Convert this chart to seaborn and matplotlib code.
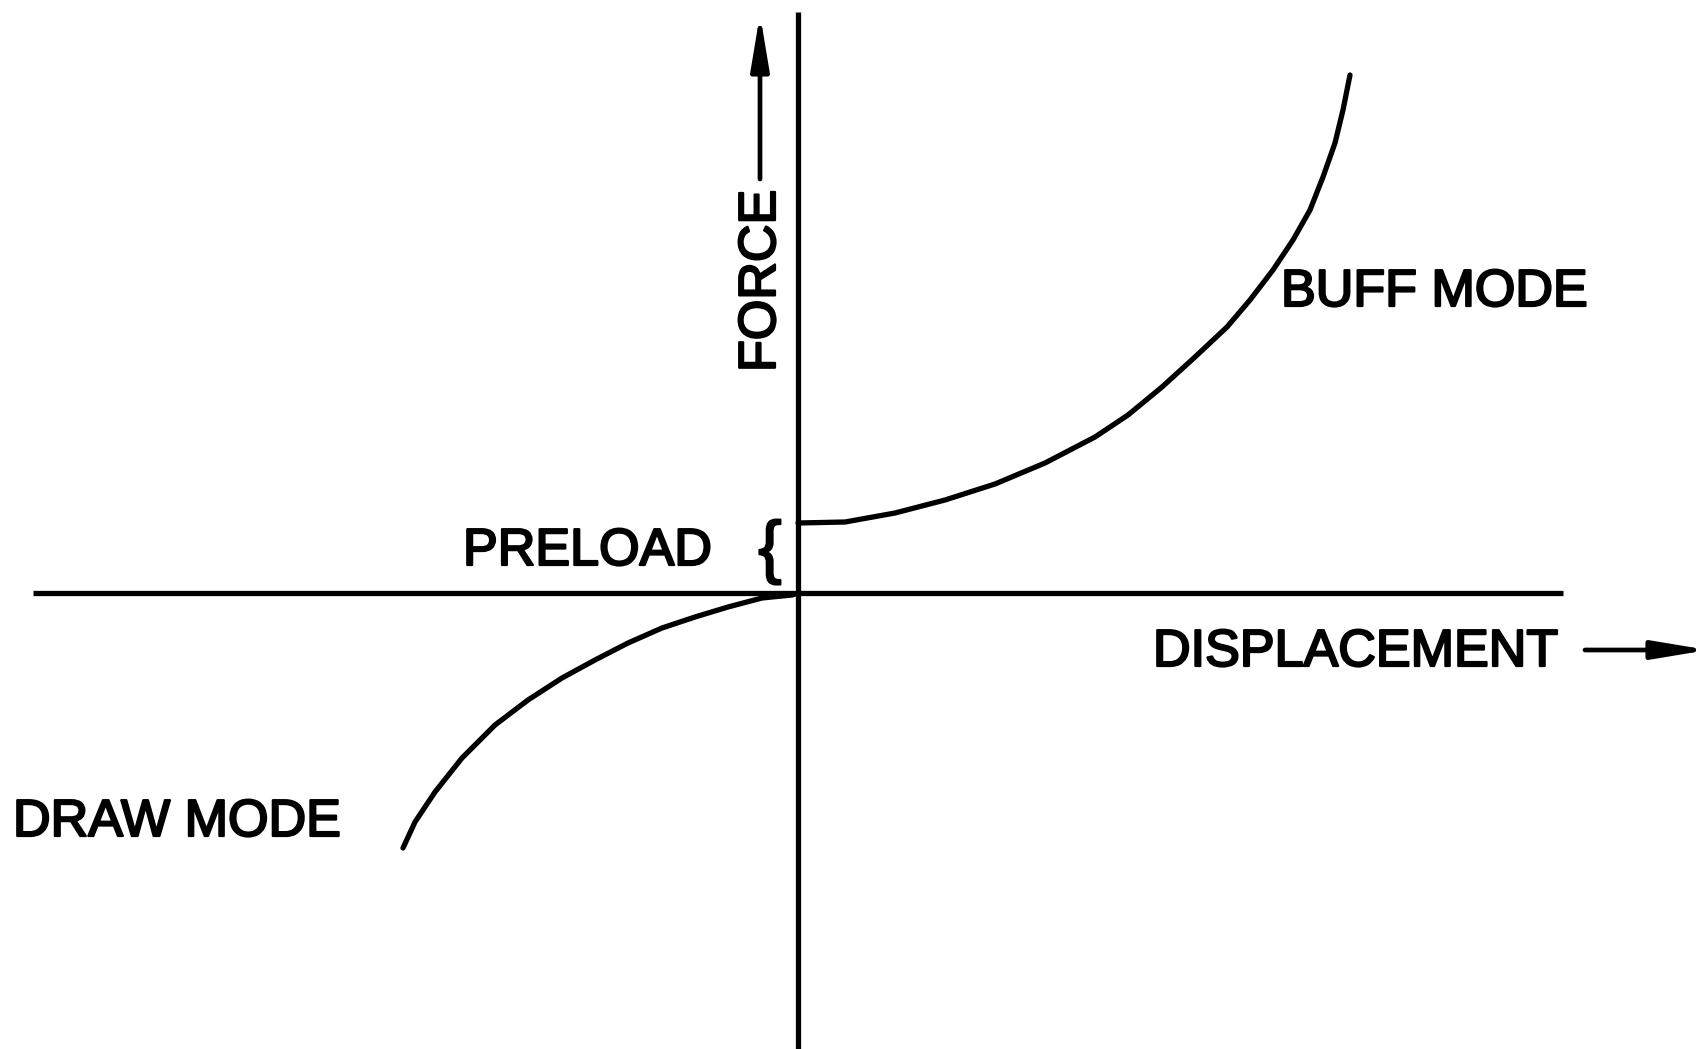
import numpy as np
import pandas as pd
import matplotlib
matplotlib.use("Agg")
import matplotlib.pyplot as plt
import matplotlib.patheffects as pe
import seaborn as sns

# Buff mode curve (displacement > 0), starts at preload force
buff_x = [0.00, 0.47, 0.97, 1.47, 1.97, 2.47, 2.97, 3.30, 3.64, 3.97, 4.29, 4.52,
          4.75, 4.95, 5.12, 5.25, 5.37, 5.45, 5.52]
buff_y = [0.70, 0.71, 0.80, 0.93, 1.09, 1.30, 1.56, 1.78, 2.06, 2.36, 2.66, 2.93,
          3.23, 3.53, 3.83, 4.16, 4.50, 4.83, 5.18]

# Draw mode curve (displacement < 0)
draw_x = [0.00, -0.06, -0.36, -0.70, -1.03, -1.36, -1.70, -2.03, -2.36, -2.70,
          -3.03, -3.36, -3.63, -3.83, -3.95]
draw_y = [0.00, -0.02, -0.05, -0.14, -0.24, -0.35, -0.50, -0.67, -0.85, -1.07,
          -1.32, -1.65, -1.99, -2.29, -2.55]

labels = {
    "force": "FORCE",
    "disp": "DISPLACEMENT",
    "preload": "PRELOAD",
    "buff": "BUFF MODE",
    "draw": "DRAW MODE",
}

sns.set_theme(style="white")
plt.rcParams["font.family"] = ["Liberation Sans", "DejaVu Sans"]

fig = plt.figure(figsize=(17.02, 10.49), dpi=100)
ax = fig.add_axes([0, 0, 1, 1])
ax.set_xlim(-7.98, 9.04)
ax.set_ylim(-4.56, 5.93)
ax.set_axis_off()

df = pd.concat([
    pd.DataFrame({"x": buff_x, "y": buff_y, "mode": "buff"}),
    pd.DataFrame({"x": draw_x, "y": draw_y, "mode": "draw"}),
])
sns.lineplot(data=df, x="x", y="y", units="mode", estimator=None, sort=False,
             color="black", linewidth=3.8, ax=ax, legend=False,
             solid_joinstyle="round", solid_capstyle="round")

# axes lines
ax.plot([-7.65, 7.65], [0, 0], color="black", lw=3.8, solid_capstyle="butt")
ax.plot([0, 0], [-4.7, 5.81], color="black", lw=3.8, solid_capstyle="butt")

fs = 37.5
stroke = [pe.withStroke(linewidth=1.6, foreground="black")]

# arrows
arrow = dict(arrowstyle="-|>,head_length=3.3,head_width=0.55", mutation_scale=10,
             lw=3.4, color="black", shrinkA=0, shrinkB=0)
ax.annotate("", xy=(-0.38, 5.79), xytext=(-0.38, 4.14), arrowprops=arrow,
            annotation_clip=False)
ax.annotate("", xy=(9.10, -0.57), xytext=(7.87, -0.57), arrowprops=arrow,
            annotation_clip=False)

# texts
ax.text(-0.23, 2.21, labels["force"], rotation=90, rotation_mode="anchor",
        ha="left", va="baseline", fontsize=fs, color="black", path_effects=stroke)
ax.text(3.55, -0.73, labels["disp"], ha="left", va="baseline", fontsize=fs,
        color="black", path_effects=stroke)
ax.text(-3.35, 0.28, labels["preload"], ha="left", va="baseline", fontsize=fs,
        color="black", path_effects=stroke)
ax.text(4.83, 2.87, labels["buff"], ha="left", va="baseline", fontsize=fs,
        color="black", path_effects=stroke)
ax.text(-7.85, -2.43, labels["draw"], ha="left", va="baseline", fontsize=fs,
        color="black", path_effects=stroke)
ax.text(-0.28, 0.41, "{", ha="center", va="center", fontsize=50, color="black",
        path_effects=stroke)

fig.savefig("out.png", dpi=100, facecolor="white")
